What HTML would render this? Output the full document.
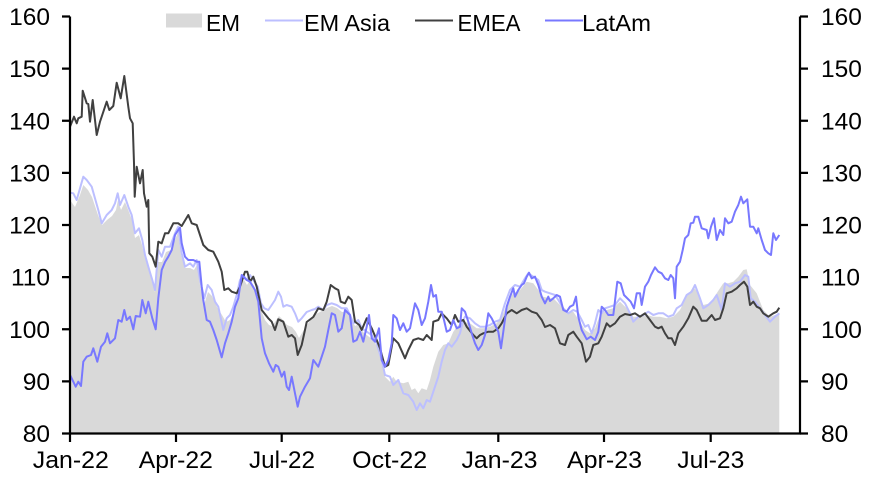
<!DOCTYPE html>
<html><head><meta charset="utf-8"><style>
html,body{margin:0;padding:0;background:#fff;}
svg{display:block;font-family:"Liberation Sans",Arial,sans-serif;}
</style></head><body>
<svg width="873" height="477" viewBox="0 0 873 477" xmlns="http://www.w3.org/2000/svg">
<rect width="873" height="477" fill="#fff"/>
<!-- EM fill -->
<polygon fill="#d9d9d9" points="70,433.5 70,200 75,207 80,195 83.3,185 88,190 92,197 98,215 102,225 107,220 112,216 116,210 118,200 121,210 125,202 129,212 132,220 135,238 139,235 142,245 145,258 148,268 152,282 155,292 158,262 162,262 166,252 171,250 175,240 178,232 181,255 185,268 190,268 194,270 197,265 200,285 204,305 208,292 212,296 217,307 222,315 226,322 230,320 234,312 237,300 240,285 244,280 247,285 250,280 254,286 258,294 261,310 265,320 269,325 272,326 275,322 279,316 283,320 287,325 292,327 296,332 299,338 302,333 307,325 312,318 316,314 320,312 327,308 332,306 337,308 342,312 347,312 351,318 355,326 359,324 363,332 368,336 373,340 378,348 382,362 385,376.7 390,381.7 393.3,376.7 396.7,381.7 403.3,383.3 408.3,381.7 411.7,390 415,388.3 418.3,393.3 421.7,388.3 426.7,390 430,380 433.3,366.7 438.3,351.7 443.3,345 448.3,343.3 453.3,331.7 458.3,325 463.3,321.7 470,323.3 476.7,328.3 483.3,328.3 490,326.7 496.7,323.3 503.3,313.3 508.3,300 513.3,293.3 520,290 526.7,281.7 533.3,283.3 538.3,290 543.3,296.7 550,298.3 553.3,298.3 560,305 566.7,313.3 573.3,311.7 580,321.7 585,330 590,333.3 595,328.3 600,315 606.7,310 613.3,308.3 620,301.7 626.7,308.3 633.3,316.7 640,316.7 646.7,315 653.3,316.7 660,316.7 666.7,318.3 673.3,316.7 680,310 686.7,296.7 693.3,286.7 698.3,293.3 703.3,305 710,303.3 716.7,293.3 723.3,283.3 728.3,283.3 733.3,281.7 738.3,276.7 743.3,270 746.7,269.3 750,285 756.7,293.3 763.3,310 770,316.7 775,315 779.3,313.3 779.3,433.5"/>
<!-- EM Asia -->
<polyline fill="none" stroke="#bcbfff" stroke-width="2" stroke-linejoin="round" points="70,192.7 73.3,193.3 76.7,200 80,188.3 83.3,176.7 86.7,180 91.7,186.7 98.3,210 101.7,223.3 106.7,215 111.7,210 115,203.3 117.7,193.3 120,205 124.3,195 128.3,206.7 131.7,215 135,233.3 139,228.3 142.3,240 145,255 148.3,266.7 152.3,280 155,290 158.3,250 161.7,256.7 165,246.7 170,246.7 175,233.3 178.3,226.7 181.7,253.3 185,266.7 190,263.3 193.3,266.7 196.7,260 200,280 204.3,298.3 207.7,285 211.7,290 215,301.7 218.3,306.7 223.3,330 226.7,318.3 230,315 233.3,306.7 236.7,295 240,280 243.3,275 246.7,280 250,275 253.3,280 257.7,286.7 261,303.3 264.3,308.3 268.3,310 271.7,305 275,300 278.3,291.7 281,296.7 283.3,306.7 286.7,305 291.7,306.7 295,313.3 298.3,321.7 301.7,318.3 306.7,312 311.7,310 315,309 318.3,306.7 323.3,310 326.7,305 331.7,303.3 336.7,305 341.7,308.3 346.7,308.3 350,315 353.3,323.3 358.3,320 361.7,328.3 366.7,331.7 371.7,335 376.7,343.3 381.7,360 385,375 390,376.7 393.3,385 398.3,380 403.3,393.3 408.3,395 413.3,401.7 416.7,410 420,403.3 423.3,408.3 426.7,400 430,401.7 433.3,391.7 438.3,376.7 441.7,361.7 445,350 448.3,343.3 451.7,346.7 456.7,340 460,333.3 463.3,320 465,316.7 470,318.3 475,323.3 480,326.7 485,326.7 490,325 495,321.7 500,320 505,303.3 510,290 515,285 520,286.7 525,278.3 528.3,273.3 533.3,276.7 538.3,280 541.7,290 545,291.7 550,293.3 555,295 558.3,300 563.3,308.3 568.3,313.3 573.3,310 577.3,311.7 581.7,320 585,326.7 588.3,325 591.7,333.3 595,323.3 598.3,310 601.7,313.3 605,308.3 610,306.7 615,305 620,298.3 625,303.3 630,313.3 633.3,321.7 638.3,316.7 643.3,315 648.3,311.7 653.3,315 658.3,313.3 663.3,313.3 668.3,316.7 673.3,315 676.7,308.3 681.7,305 686.7,295 691.7,291.7 695,285 700,298.3 703.3,308.3 708.3,305 713.3,300 716.7,295 721.7,310 725,283.3 730,286.7 735,283.3 740,281.7 745,275 748.3,276.7 750.7,298.3 755,301.7 760,308.3 765,315 770,321.7 775,316.7 779.3,313.3"/>
<!-- EMEA -->
<polyline fill="none" stroke="#404040" stroke-width="2" stroke-linejoin="round" points="70,126.7 74,116.7 76.7,123.3 78.3,118.3 81.7,116.7 82.7,90.7 86.7,103.3 88.3,104 90,121.7 92.7,100 96.7,135 100,121.7 101.7,116.7 106.7,101.7 109.3,110 113.3,106 116.7,82.7 120.7,98.3 124.3,76 128.3,106.7 130,118.3 132.7,123.3 134,163.3 134.7,196.7 136.7,166.7 140,183.3 142.7,170 144,193.3 146.7,206.7 148.3,200 149.3,253.3 152.3,256.7 155.7,266.7 158.3,241.7 161.7,243.3 165,233.3 168.3,233.3 173.3,223.3 178.3,223.3 181.7,226 188.3,215 191.7,223.3 196.7,225 200,235 203.3,245 208.3,250 213.3,251.7 218.3,261.7 221.7,271.7 224.3,290 228.3,288.3 231.7,291.7 236.7,293.3 240,286.7 245,271.7 247.3,271.7 250,281.7 253.3,276.7 256.7,286.7 261.7,310 268.3,318.3 271.7,321.7 275,330 278.3,319.3 283.3,321.7 288.3,336.7 291.7,335 295,338.3 297.7,355 301.7,345 306.7,322 313.3,317 318.3,308.3 323.3,310 326.7,301.7 330.7,285 335,288.3 338.3,290 340.7,301.7 345,303.3 348.3,296.7 351.7,300 355,321.7 359.3,325 361.7,330 366.7,318.3 371.7,328.3 376.7,340 380,348.3 385,366.7 388.3,365 393.3,338.3 398.3,343.3 405,358.3 408.3,350 413.3,340 418.3,338.3 423.3,340 426.7,335 431.7,340 433.3,321.7 438.3,320 441.7,313.3 446.7,318.3 451.7,325 455,315 458.3,321.7 463.3,320 466.7,326.7 473.3,335 476.7,338.3 480,335 483.3,333.3 488.3,331.7 493.3,331.7 498.3,328.3 501.7,323.3 506.7,313.3 511.7,310 516.7,313.3 521.7,310 526.7,308.3 531.7,311.7 536.7,313.3 541.7,320 545,327 550,325 555,328.3 560,343.3 565,345 568.3,335 573.3,331.7 576.7,336.7 581.7,343.3 586,361.7 590,356.7 593.3,345 598.3,343.3 601.7,336.7 606.7,323.3 610,326.7 615,323.3 620,316.7 625,314 630,315 635,313.3 640,316.7 645,313.3 650,320 655,326.7 658.3,328.3 661.7,326.7 665,333.3 668.3,338.3 671.7,338.3 675,345 678.3,333.3 683.3,326.7 688.3,318.3 693.3,306.7 696.7,310 701.7,320.7 706.7,320.7 711.7,315 715,320 720,318.3 723.3,308.3 726.7,293.3 731.7,291.7 736.7,288.3 740,285 744,281.7 747.3,286.7 750,305 753.3,301.7 756.7,306.7 760,308.3 763.3,313.3 768.3,316.7 773.3,313.3 776.7,311.7 779.3,307.7"/>
<!-- LatAm -->
<polyline fill="none" stroke="#7878ff" stroke-width="2" stroke-linejoin="round" points="70,375 73.3,381.7 75.7,386.7 78.3,381.7 81,386 83.3,361.7 86.7,356.7 91,355 93.3,348.3 97.3,361.7 101,346.7 105,341.7 107.3,333.3 110,343.3 115,338.3 118.3,320 121.7,321.7 124.3,310 126.7,320 130,316.7 133.3,329.3 135.7,316 140,316.7 142.3,300 145.7,313.3 148.3,301.7 152.3,318.3 155.7,329.3 158.3,298.3 161.7,270 165,262 168.3,256.7 171.7,250 175,235 178.3,230 180,227.7 181.7,243.3 185,256.7 188.3,260 193.3,260 196.7,261.7 199.3,261.7 201.7,286.7 203.3,300 206.7,320 210,321.7 213.3,330 216.7,340 221.7,357.3 225,343.3 228.3,333.3 231.7,321.7 235,306.7 238.3,298.3 241.7,275 246.7,280 250,281.7 255,290 258.3,301.7 261.7,338.3 265,353.3 269,363.3 273.3,371.7 275.7,365 278.3,366.7 281.7,376.7 284.3,371.7 286.7,386.7 289,390 291.7,376.7 295,393.3 297.7,406.7 300,396.7 305,386.7 310,378.3 313.3,360 318.3,366.7 321.7,356.7 325,346.7 328.3,330 331.7,313.3 335,315 338.3,331.7 341.7,328.3 345,310 350,315 353.3,341.7 356.7,340 360,331.7 363.3,341.7 366.7,326.7 369,315 371.7,338.3 375,341.7 379,328.3 381.7,360 385,366.7 388.3,360 391.7,343.3 393.3,315 396.7,318.3 400,330 403.3,323.3 406.7,331.7 410,328.3 415,303.3 418.3,310 421.7,325 425,318.3 428.3,301.7 431,285 433.3,296.7 436,295 438.3,311.7 441.7,311.7 444,320 446.7,331.7 450,330 453.3,320 456.7,328.3 460,326.7 461.7,308.3 465,311.7 468.3,321.7 471.7,333.3 475,343.3 478.3,350 481.7,345 485,335 488.3,313.3 491.7,318.3 495,325 498.3,331.7 501,348.3 503.3,331.7 506.7,306.7 510,296.7 513.3,288.3 515,296.7 518.3,290 521.7,285 524,283.3 526.7,276.7 529,272.7 531.7,278.3 535,276.7 538.3,285 541.7,296.7 545,303.3 548.3,296.7 550,301 553.3,298.3 556.7,295 560,296.7 563.3,310 566.7,311.7 570,306.7 573.3,305 576,296.7 578.3,316.7 581.7,330 586.7,339.3 590.7,336.7 595,340 598.3,331.7 601.7,306.7 605,310 608.3,315 613.3,315 617.3,281.7 620.7,283.3 624,295 627.3,298.3 630.7,301.7 634,308.3 636.7,293.3 640,293.3 641.7,305 645,286.7 648.3,281.7 651,275 655,267.3 658.3,271.7 661.7,273.3 665,278.3 668.3,280 670.7,275 673.3,278.3 675,298.3 676.7,266.7 680,261.7 682.7,250 685,238.3 688.3,235 690.7,223.3 693.3,222.7 695,216.7 698.3,216.7 701.7,228.3 706.7,230 708.3,238.3 711,226.7 714,218.3 716.7,240 720,230 723.3,235 725,218.3 728.3,223.3 731.7,221.7 735,211.7 738.3,205 741,196.7 743.3,203.3 747.3,199.3 750,226.7 753.3,226.7 756.7,233.3 758.3,228.3 761.7,240 765,250 768.3,253.3 771,255 773.3,233.3 776,240 779.3,235"/>
<!-- axes -->
<g stroke="#000" stroke-width="2.2" fill="none">
<line x1="70" y1="16.5" x2="70" y2="434.5"/>
<line x1="800" y1="16.5" x2="800" y2="434.5"/>
<line x1="69" y1="433.5" x2="801" y2="433.5"/>
<path d="M62,16.5H70M62,68.6H70M62,120.75H70M62,172.9H70M62,225H70M62,277.1H70M62,329.25H70M62,381.4H70M62,433.5H70"/>
<path d="M800,16.5H808M800,68.6H808M800,120.75H808M800,172.9H808M800,225H808M800,277.1H808M800,329.25H808M800,381.4H808M800,433.5H808"/>
<path d="M70,433.5V442M176,433.5V442M281.7,433.5V442M389.3,433.5V442M498.3,433.5V442M604,433.5V442M710.7,433.5V442"/>
</g>
<!-- y labels -->
<g font-size="24.5" fill="#000" text-anchor="end">
<text x="50" y="25.1">160</text>
<text x="50" y="77.2">150</text>
<text x="50" y="129.4">140</text>
<text x="50" y="181.5">130</text>
<text x="50" y="233.6">120</text>
<text x="50" y="285.7">110</text>
<text x="50" y="337.9">100</text>
<text x="50" y="390">90</text>
<text x="50" y="442.1">80</text>
</g>
<g font-size="24.5" fill="#000" text-anchor="start">
<text x="821" y="25.1">160</text>
<text x="821" y="77.2">150</text>
<text x="821" y="129.4">140</text>
<text x="821" y="181.5">130</text>
<text x="821" y="233.6">120</text>
<text x="821" y="285.7">110</text>
<text x="821" y="337.9">100</text>
<text x="821" y="390">90</text>
<text x="821" y="442.1">80</text>
</g>
<!-- x labels -->
<g font-size="24" fill="#000" text-anchor="middle">
<text x="70.8" y="468" textLength="76" lengthAdjust="spacingAndGlyphs">Jan-22</text>
<text x="175.8" y="468" textLength="74" lengthAdjust="spacingAndGlyphs">Apr-22</text>
<text x="282" y="468" textLength="66" lengthAdjust="spacingAndGlyphs">Jul-22</text>
<text x="389.7" y="468" textLength="75" lengthAdjust="spacingAndGlyphs">Oct-22</text>
<text x="499.5" y="468" textLength="76" lengthAdjust="spacingAndGlyphs">Jan-23</text>
<text x="604.5" y="468" textLength="75" lengthAdjust="spacingAndGlyphs">Apr-23</text>
<text x="710.8" y="468" textLength="67" lengthAdjust="spacingAndGlyphs">Jul-23</text>
</g>
<!-- legend -->
<rect x="166" y="13.5" width="36" height="14" fill="#d9d9d9"/>
<line x1="265" y1="20.5" x2="303" y2="20.5" stroke="#bcbfff" stroke-width="2"/>
<line x1="415" y1="20.5" x2="453" y2="20.5" stroke="#404040" stroke-width="2"/>
<line x1="545" y1="20.5" x2="583" y2="20.5" stroke="#7878ff" stroke-width="2"/>
<g font-size="23" fill="#000">
<text x="206" y="31" textLength="34" lengthAdjust="spacingAndGlyphs">EM</text>
<text x="304" y="31" textLength="86" lengthAdjust="spacingAndGlyphs">EM Asia</text>
<text x="457.5" y="31" textLength="63" lengthAdjust="spacingAndGlyphs">EMEA</text>
<text x="582" y="31" textLength="69" lengthAdjust="spacingAndGlyphs">LatAm</text>
</g>
</svg>
</body></html>
